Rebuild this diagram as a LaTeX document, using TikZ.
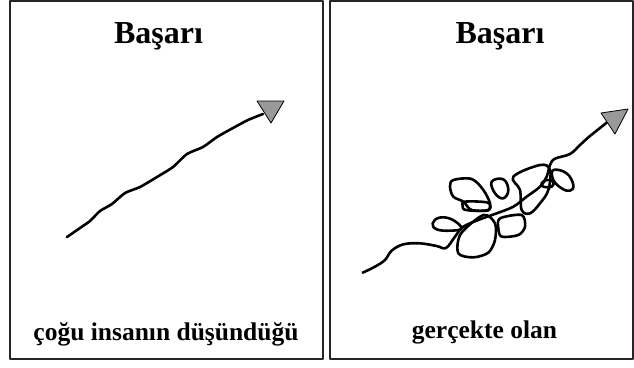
\documentclass[tikz,border=0pt]{standalone}
\usepackage{fontspec}
\setmainfont{Liberation Serif}
\begin{document}
\begin{tikzpicture}[x=1pt,y=-1pt,line join=round,line cap=round,
  panel/.style={draw=black!85,line width=1.6pt},
  squiggle/.style={draw=black,line width=2.6pt},
  tip/.style={draw=black,fill=black!40,line width=0.8pt},
  title/.style={font=\bfseries\fontsize{32}{38}\selectfont,inner sep=0pt,anchor=base},
  caption/.style={font=\bfseries\fontsize{25.5}{30}\selectfont,inner sep=0pt,anchor=base}]
\useasboundingbox (0,0) rectangle (634,367);
% panels
\draw[panel] (10,1) rectangle (323,359);
\draw[panel] (330,1) rectangle (633,359);
% texts
\node[title] (t1) at (158.5,43) {Başarı};
\node[title] (t2) at (500,43) {Başarı};
\node[caption] (c1) at (166,340) {çoğu insanın düşündüğü};
\node[caption] (c2) at (484.5,338) {gerçekte olan};
% left: straight-ish path
\draw[squiggle] plot[smooth,tension=0.4] coordinates {(67,237) (80,228) (90,221) (100,211) (112,204) (125,193) (140,187) (157,177) (173,167) (187,154) (203,147) (217,137) (233,128) (248,120) (263,114)};
\draw[tip] (257,101) -- (284,101) -- (271,123) -- cycle;
% right: tangled path
\begin{scope}[shift={(340,80)},scale=1/3]
\draw[squiggle] plot[smooth,tension=0.6] coordinates {(68,578) (105,560) (135,540) (155,512) (190,493) (240,490) (290,498) (318,504) (345,470) (370,440) (420,418) (470,400) (520,380) (560,350) (600,320) (620,290) (630,255) (645,236) (690,222) (720,195) (745,172) (770,152) (800,128)};
\draw[squiggle] plot[smooth cycle,tension=0.7] coordinates {(365,445) (330,452) (290,448) (278,430) (298,413) (335,418)};
\draw[squiggle] plot[smooth cycle,tension=0.5] coordinates {(362,462) (355,520) (400,532) (445,518) (465,480) (465,430) (430,405)};
\draw[squiggle] plot[smooth cycle,tension=0.55] coordinates {(340,300) (395,297) (430,330) (450,370) (445,390) (395,390) (370,365) (340,350) (330,320)};
\draw[squiggle] plot[smooth cycle,tension=0.6] coordinates {(375,365) (440,367) (450,380) (440,392) (378,390) (368,378)};
\draw[squiggle] plot[smooth cycle,tension=0.5] coordinates {(480,415) (545,405) (555,440) (535,465) (485,470) (475,445)};
\draw[squiggle] plot[smooth cycle,tension=0.7] coordinates {(455,305) (490,298) (505,330) (490,355) (465,340)};
\draw[squiggle] plot[smooth cycle,tension=0.6] coordinates {(520,290) (600,255) (630,270) (625,330) (600,370) (570,400) (545,390) (540,330)};
\draw[squiggle] plot[smooth cycle,tension=0.7] coordinates {(605,310) (620,300) (640,305) (635,320) (610,320)};
\draw[squiggle] plot[smooth cycle,tension=0.7] coordinates {(640,270) (680,280) (700,315) (690,332) (665,325) (640,300)};
\end{scope}
\draw[tip] (601,113) -- (628,109) -- (615,134) -- cycle;
\end{tikzpicture}
\end{document}
